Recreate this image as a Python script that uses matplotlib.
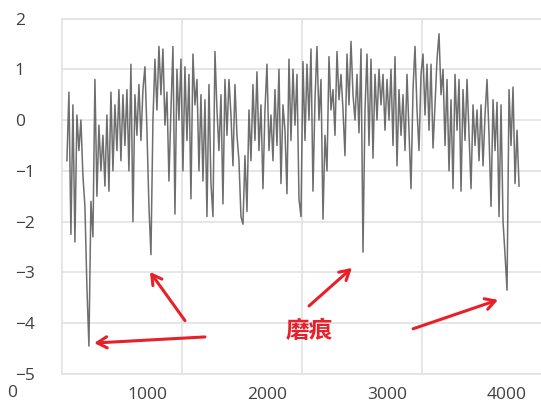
import numpy as np
import matplotlib
matplotlib.use('Agg')
import matplotlib.pyplot as plt

plt.rcParams['font.family'] = ['Open Sans', 'Noto Sans CJK SC', 'DejaVu Sans']

signal = [
    -0.8, 0.55, -2.25, 0.3, -2.4, 0.1, -0.6, 0.0, -1.1, -1.7, -3.3, -4.45,
    -1.6, -2.3, 0.8, -1.5, -0.1, -1.0, -0.3, -1.3, 0.1, -1.4, 0.55, -1.0,
    0.3, -0.6, 0.6, -0.8, 0.5, -0.5, 0.6, -1.0, 1.1, -2.0, 0.5, -0.3,
    0.7, -0.4, 0.6, 1.05, -0.2, -1.7, -2.65, 0.0, 1.2, 0.2, 1.45, 0.5,
    1.4, -0.1, 0.55, -1.2, 0.2, 1.45, -1.85, 1.0, 0.0, 1.2, -1.0, 1.05,
    -0.4, 0.9, -1.55, 1.3, 0.3, 0.8, -1.0, 0.5, -1.2, 0.4, -1.9, 0.7, -1.25,
    -1.9, 1.35, 0.2, -0.6, 0.5, -1.65, 0.8, -0.3, 0.8, 0.1, -0.9, 0.7,
    -0.3, -0.8, -1.9, -2.05, -0.7, -1.8, 0.2, -0.8, 0.7, -0.4, 0.95, -0.6,
    0.3, -1.35, 0.2, 1.1, -0.6, 0.1, -0.8, 0.6, -0.5, 1.0, -1.25, 0.3, -0.2,
    -1.45, 1.2, -0.4, 1.0, -0.1, 0.9, -1.55, -1.9, 1.15, -0.4, 1.1, 0.0,
    1.4, -1.4, 0.4, 1.45, 0.0, 0.8, -1.95, -0.3, -1.0, 1.25, 0.2, 0.6,
    -0.3, 1.35, 0.4, 0.9, 0.2, -0.7, 1.3, 0.3, 1.55, 0.5, 0.0, 0.9, -0.25,
    1.4, -2.6, 0.2, 1.3, -0.5, 1.2, -0.75, 0.9, 0.0, 1.0, 0.3, 0.9,
    -0.2, 0.8, 0.0, 1.0, -0.5, 1.25, -0.9, 0.6, -0.3, 0.5, -0.6, 0.9,
    -0.2, -1.35, 0.6, 1.45, 0.2, -0.6, 0.9, 1.3, 0.1, 1.1, -0.2, 1.1, -0.55,
    0.3, 1.2, 1.7, 0.5, 1.0, -0.5, 0.8, -1.0, 0.4, -1.35, 0.9, -0.2,
    0.8, -1.4, 0.6, -0.4, 0.8, -0.3, -1.35, 0.3, -0.5, 0.2, -0.8, 0.3,
    -0.9, 0.1, 0.8,
    -0.3, -1.7, 0.4, -0.6, 0.35, -1.9, 0.3, -2.0, -2.65, -3.35, 0.6, -0.5,
    0.65, -1.25, -0.2, -1.3,
]
x_start, x_end = 333, 4100
position = np.linspace(x_start, x_end, len(signal))

x_ticks = [1000, 2000, 3000, 4000]
y_ticks = [2, 1, 0, -1, -2, -3, -4, -5]
grid_x = [1292, 2292, 3292]

label = '磨痕'
# (tail, head) of each arrow
arrows = [
    ((1483, -4.27), (560, -4.39)),
    ((1317, -3.95), (1025, -2.99)),
    ((2350, -3.66), (2708, -2.91)),
    ((3217, -4.11), (3925, -3.54)),
]

fig = plt.figure(figsize=(5.41, 4.05), dpi=100)
ax = fig.add_axes([0.1146, 0.0765, 0.8854, 0.8778])
ax.set_axisbelow(True)

ax.plot(position, signal, color='#555555', lw=1.1, alpha=0.85)

ax.set_xlim(292, 4283)
ax.set_ylim(-5, 2)
ax.set_xticks(x_ticks)
ax.set_xticks(grid_x, minor=True)
ax.set_yticks(y_ticks)
ax.grid(which='minor', axis='x', color='#e2e2e2', lw=1.2)
ax.grid(which='major', axis='y', color='#e2e2e2', lw=1.2)
ax.grid(which='major', axis='x', visible=False)

for side in ['top', 'bottom', 'left']:
    ax.spines[side].set_color('#e2e2e2')
    ax.spines[side].set_linewidth(1.2)
ax.spines['right'].set_visible(False)

ax.tick_params(which='both', length=0, labelsize=12.5, labelcolor='#404040')
ax.tick_params(axis='y', pad=34)
ax.tick_params(axis='x', pad=9)
for lbl in ax.get_yticklabels():
    lbl.set_ha('left')

fig.text(12 / 541, 1 - 393 / 405, '0', ha='center', va='center',
         fontsize=12.5, color='#404040')

for tail, head in arrows:
    ax.annotate('', xy=head, xytext=tail,
                arrowprops=dict(arrowstyle='->,head_length=0.7,head_width=0.4',
                                color='#e8202a', lw=2.2,
                                shrinkA=0, shrinkB=0))

ax.text(2350, -4.15, label, ha='center', va='center', fontsize=17,
        fontweight='bold', color='#e8202a', family=['Noto Sans CJK SC', 'DejaVu Sans'])

fig.savefig('out.png', dpi=100)
